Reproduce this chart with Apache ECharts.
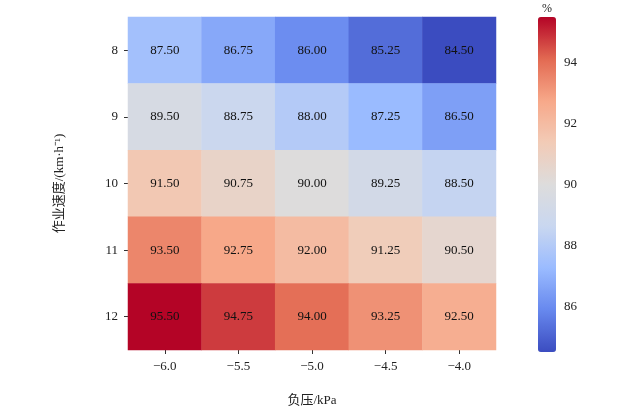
<!DOCTYPE html>
<html>
<head>
<meta charset="utf-8">
<script src="https://cdn.jsdelivr.net/npm/echarts@6/dist/echarts.min.js"></script>
<style>
  body{margin:0;background:#fff;}
  #chart{width:626px;height:412px;}
</style>
</head>
<body>
<div id="chart"></div>
<script>
var pressure = ['\u22126.0', '\u22125.5', '\u22125.0', '\u22124.5', '\u22124.0'];
var speed = ['8', '9', '10', '11', '12'];
// rows: speed 8..12, columns: pressure -6.0..-4.0
var rate8 = [87.50, 86.75, 86.00, 85.25, 84.50];
var rate9 = [89.50, 88.75, 88.00, 87.25, 86.50];
var rate10 = [91.50, 90.75, 90.00, 89.25, 88.50];
var rate11 = [93.50, 92.75, 92.00, 91.25, 90.50];
var rate12 = [95.50, 94.75, 94.00, 93.25, 92.50];
var barTicks = [86, 88, 90, 92, 94];

var rows = [rate8, rate9, rate10, rate11, rate12];
var cells = [];
rows.forEach(function(r, i){
  r.forEach(function(v, j){ cells.push([j, i, v]); });
});

var font = '"Liberation Serif", "Noto Sans CJK SC", serif';
var chart = echarts.init(document.getElementById('chart'));
chart.setOption({
  animation: false,
  textStyle: {fontFamily: font},
  grid: [
    {left: 128, top: 17, width: 368, height: 335},
    {left: 538, top: 17, width: 18, height: 335}
  ],
  xAxis: [{
    type: 'category', data: pressure, gridIndex: 0,
    name: '负压/kPa', nameLocation: 'middle', nameGap: 44,
    nameTextStyle: {color: '#222', fontSize: 13, fontFamily: font},
    axisLine: {show: false},
    axisTick: {show: true, alignWithLabel: true, length: 4, lineStyle: {color: '#333'}},
    axisLabel: {color: '#222', fontSize: 13, margin: 10, fontFamily: font},
    splitLine: {show: false}
  }, {
    type: 'value', gridIndex: 1, show: false
  }],
  yAxis: [{
    type: 'category', data: speed, inverse: true, gridIndex: 0,
    name: '作业速度/(km·h⁻¹)', nameLocation: 'middle', nameGap: 62, nameRotate: 90,
    nameTextStyle: {color: '#222', fontSize: 13, fontFamily: font},
    axisLine: {show: false},
    axisTick: {show: true, alignWithLabel: true, length: 4, lineStyle: {color: '#333'}},
    axisLabel: {color: '#222', fontSize: 13, margin: 10, fontFamily: font},
    splitLine: {show: false}
  }, {
    type: 'value', gridIndex: 1, position: 'right', min: 84.5, max: 95.5,
    name: '%', nameGap: 2, nameTextStyle: {color: '#222', fontSize: 12, align: 'left', padding: [0,0,0,4]},
    axisLine: {show: false},
    axisTick: {show: true, length: 4, lineStyle: {color: '#333'}, customValues: barTicks},
    axisLabel: {color: '#222', fontSize: 13, margin: 8, customValues: barTicks},
    splitLine: {show: false}
  }],
  visualMap: {
    type: 'continuous', min: 84.5, max: 95.5, seriesIndex: 0,
    left: 538, top: 17, itemWidth: 18, itemHeight: 335, padding: 0,
    calculable: false, text: ['', ''], showLabel: false,
    inRange: {color: ['#3b4cc0', '#6788ee', '#9abbff', '#c9d7f0', '#dddcdc', '#f2cbb7', '#f7a889', '#e26952', '#b40426']}
  },
  series: [{
    type: 'heatmap', data: cells, xAxisIndex: 0, yAxisIndex: 0,
    label: {show: true, color: '#111', fontSize: 13, fontFamily: font,
      formatter: function(p){ return p.value[2].toFixed(2); }},
    itemStyle: {borderWidth: 0}
  }]
});
</script>
</body>
</html>
